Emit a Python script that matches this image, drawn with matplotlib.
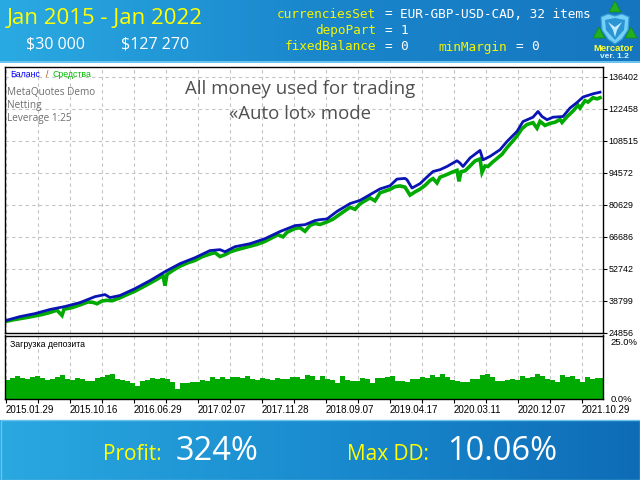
import numpy as np
import matplotlib.pyplot as plt
from matplotlib.colors import LinearSegmentedColormap
from matplotlib.patches import Polygon, Rectangle

W, H = 640, 480

# balance / equity, deal index vs thousands of dollars
bal_x = [0, 15, 30, 45, 60, 75, 90, 100, 105, 115,
         130, 145, 160, 175, 190, 205, 215, 220, 230, 245,
         260, 275, 290, 300, 310, 315, 322, 332, 345, 355,
         365, 375, 385, 392, 400, 402, 407, 415, 422, 428,
         435, 442, 452, 455, 458, 465, 475, 478, 485, 495,
         502, 512, 518, 528, 533, 537, 542, 548, 558, 565,
         572, 578, 588, 595]
balance = [30.0, 31.8, 33.1, 34.9, 36.2, 37.9, 40.5, 41.4, 40.1, 41.0,
           44.0, 47.5, 51.4, 54.9, 57.5, 60.6, 61.0, 60.1, 62.3, 63.6,
           65.8, 68.9, 71.5, 71.9, 73.7, 74.1, 74.4, 77.7, 81.1, 82.5,
           85.0, 87.5, 88.9, 91.8, 92.1, 91.5, 87.9, 89.8, 92.7, 95.1,
           95.9, 97.3, 99.8, 98.8, 97.3, 101.0, 104.3, 100.2, 101.7, 104.6,
           108.2, 112.6, 116.9, 118.8, 121.3, 119.1, 117.7, 118.8, 119.1, 122.8,
           125.2, 127.6, 129.0, 129.7]

eq_x = [0, 7, 15, 23, 30, 37, 45, 52, 57, 59,
        67, 75, 83, 88, 92, 97, 102, 107, 115, 123,
        130, 137, 145, 152, 158, 160, 162, 168, 175, 183,
        190, 197, 205, 210, 215, 220, 225, 232, 239, 245,
        252, 260, 267, 273, 278, 282, 290, 295, 300, 305,
        310, 315, 322, 328, 335, 345, 350, 355, 365, 370,
        375, 385, 390, 395, 400, 405, 410, 415, 420, 425,
        428, 432, 435, 442, 447, 452, 454, 456, 460, 465,
        470, 475, 477, 480, 483, 487, 492, 497, 502, 507,
        512, 517, 522, 528, 532, 535, 540, 545, 550, 555,
        557, 562, 568, 573, 575, 580, 583, 588, 592, 595]
equity = [29.6, 30.3, 30.9, 31.5, 32.1, 32.7, 33.6, 34.6, 32.3, 35.0,
          35.7, 36.9, 38.2, 38.0, 37.4, 38.6, 38.9, 38.7, 40.0, 41.6,
          42.9, 44.5, 46.4, 48.1, 49.7, 45.3, 50.2, 52.0, 53.8, 55.3,
          56.3, 57.9, 59.1, 59.7, 58.0, 58.8, 60.0, 61.0, 61.8, 62.5,
          63.3, 64.6, 66.2, 67.5, 66.6, 68.6, 70.2, 70.6, 69.0, 71.6,
          72.4, 72.0, 73.1, 74.3, 76.5, 79.5, 78.6, 81.0, 83.6, 82.3,
          85.8, 87.3, 88.5, 88.8, 88.3, 84.8, 86.2, 87.4, 89.0, 91.2,
          92.0, 90.1, 92.6, 93.8, 94.8, 95.6, 90.8, 95.0, 95.4, 97.5,
          99.7, 100.6, 94.7, 97.5, 97.3, 99.0, 100.8, 102.6, 105.5, 108.0,
          110.6, 113.8, 115.6, 116.4, 114.0, 117.0, 115.2, 116.1, 116.6, 117.8,
          116.5, 119.0, 121.5, 124.0, 122.8, 126.0, 125.4, 127.3, 126.8, 127.3]

# deposit load, %
load = [7.6, 8.4, 9.0, 8.2, 7.8, 8.8, 9.2, 8.4, 7.6, 8.0,
        8.6, 9.4, 8.0, 7.4, 8.4, 8.0, 7.2, 7.0, 8.4, 8.8,
        9.6, 9.8, 8.0, 7.6, 7.0, 6.2, 5.0, 7.0, 7.6, 8.4,
        8.0, 8.4, 7.8, 6.6, 4.0, 6.4, 6.2, 6.6, 6.8, 7.4,
        7.0, 8.6, 7.8, 8.8, 8.0, 8.6, 8.8, 8.2, 9.0, 8.0,
        7.4, 8.4, 8.0, 7.6, 8.4, 7.8, 7.8, 8.6, 8.8, 8.0,
        9.4, 9.0, 7.4, 9.0, 8.0, 7.6, 6.2, 9.2, 7.4, 7.0,
        7.2, 8.2, 8.0, 6.4, 8.4, 8.2, 8.6, 9.2, 7.0, 7.2,
        6.8, 8.0, 7.8, 8.6, 8.4, 9.4, 8.8, 9.8, 8.6, 7.6,
        7.2, 6.8, 6.6, 8.0, 7.8, 9.4, 9.8, 8.6, 7.2, 7.0,
        7.4, 7.8, 7.6, 9.2, 8.4, 8.6, 9.8, 9.2, 8.0, 7.4,
        6.8, 9.4, 8.6, 9.2, 8.0, 6.8, 8.6, 8.0, 8.2, 8.4]
load_x = np.arange(len(load)) * 5

y_ticks = [24856, 38799, 52742, 66686, 80629, 94572, 108515, 122458, 136402]
date_labels = ['2015.01.29', '2015.10.16', '2016.06.29', '2017.02.07', '2017.11.28',
               '2018.09.07', '2019.04.17', '2020.03.11', '2020.12.07', '2021.10.29']

# input parameters shown in the header: (column, text, colour)
params = [
    [(0, 'currenciesSet', '#f5f500'), (14, '=', 'white'),
     (16, 'EUR-GBP-USD-CAD, 32 items', 'white')],
    [(5, 'depoPart', '#f5f500'), (14, '=', 'white'), (16, '1', 'white')],
    [(1, 'fixedBalance', '#f5f500'), (14, '=', 'white'), (16, '0', 'white'),
     (21, 'minMargin', '#f5f500'), (31, '=', 'white'), (33, '0', 'white')],
]

fig = plt.figure(figsize=(6.4, 4.8), dpi=100)


def px_rect(x0, y0, x1, y1):
    return [x0 / W, 1 - y1 / H, (x1 - x0) / W, (y1 - y0) / H]


# background: header and footer bands
bg = fig.add_axes([0, 0, 1, 1], zorder=0)
bg.axis('off')
grad = np.linspace(0, 1, 256)[None, :]
top_cmap = LinearSegmentedColormap.from_list('top', ['#2aaae2', '#1a86cc', '#1576bf'])
bot_cmap = LinearSegmentedColormap.from_list('bot', ['#2aa8e0', '#1a8ccf', '#0e6cb6'])
bg.imshow(grad, cmap=top_cmap, extent=(0, W, 62, 0), aspect='auto')
bg.imshow(grad, cmap=bot_cmap, extent=(0, W, 480, 420), aspect='auto')
bg.add_patch(Rectangle((0, 61), W, 2, color='#6cc4ee', lw=0))
bg.add_patch(Rectangle((0.5, 420), W - 1, 59.5, fill=False, ec='#6cc4ee', lw=1))
bg.set_xlim(0, W)
bg.set_ylim(H, 0)

bg.text(7, 19, 'Jan 2015 - Jan 2022', color='#ffff00', fontsize=16, va='center',
        family='Open Sans')
bg.text(55, 44, '$30 000', color='white', fontsize=11.5, va='center', ha='center',
        family='Open Sans')
bg.text(155, 44, '$127 270', color='white', fontsize=11.5, va='center', ha='center',
        family='Open Sans')

mono_size = 9.2
char_w = 0.602 * mono_size * 100 / 72
for i, line in enumerate(params):
    for col, txt, colour in line:
        bg.text(277 + col * char_w, 14 + i * 16.5, txt, color=colour,
                family='DejaVu Sans Mono', fontsize=mono_size, va='center')

# logo
bg.add_patch(Polygon([(601, 17), (608, 14), (615, 16), (622, 14), (629, 17),
                      (628, 30), (622, 39), (615, 44), (608, 39), (602, 30)],
                     closed=True, fc='#74d0f4', ec='#3aa0dc', lw=0.8))
bg.add_patch(Polygon([(605, 20), (615, 18), (625, 20), (624, 30), (615, 40), (606, 30)],
                     closed=True, fc='#2a94d4', lw=0))
bg.add_patch(Polygon([(608, 22), (615, 27), (622, 22), (617, 30), (615, 37), (613, 30)],
                     closed=True, fc='#bfeaff', lw=0))
for cx, cy in [(615, 7), (599, 33), (631, 33)]:
    bg.add_patch(Polygon([(cx, cy - 6), (cx - 6, cy + 5), (cx + 6, cy + 5)],
                         closed=True, fc='#22b022', ec='#148a14', lw=0.5))
bg.text(614, 48.5, 'Mercator', color='#ffff30', fontsize=6.8, fontweight='bold',
        ha='center', va='center', family='Liberation Sans')
bg.text(614, 57, 'ver. 1.2', color='#d8f4ff', fontsize=6, fontweight='bold',
        ha='center', va='center', family='Liberation Sans')

# footer texts
bg.text(103, 455, 'Profit:', color='#ffff00', fontsize=15, va='center', family='Open Sans')
bg.text(176, 451, '324%', color='white', fontsize=23.5, va='center', family='Open Sans')
bg.text(347, 455, 'Max DD:', color='#ffff00', fontsize=15, va='center', family='Open Sans')
bg.text(447, 451, '10.06%', color='white', fontsize=23.5, va='center', family='Open Sans')

grid_x = np.arange(1, 598, 32)
grid_kw = dict(color='#c4c4c4', linestyle=(0, (3, 3)), linewidth=0.8)

# main chart
ax = fig.add_axes(px_rect(5, 67, 603, 332.5), zorder=2)
ax.set_facecolor('white')
ax.plot(eq_x, np.array(equity) * 1000, color='#00aa00', lw=2.6, solid_joinstyle='miter')
ax.plot(bal_x, np.array(balance) * 1000, color='#0a14b4', lw=2.0)
ax.set_xlim(0, 598)
ax.set_ylim(24856, 136402 + 4300)
ax.set_xticks(grid_x)
ax.set_yticks(y_ticks)
ax.set_xticklabels([])
ax.yaxis.tick_right()
ax.tick_params(axis='x', length=0)
ax.tick_params(axis='y', length=3, width=0.8, pad=1, labelsize=6.4)
for lbl in ax.get_yticklabels():
    lbl.set_family('Liberation Sans')
ax.grid(True, **grid_kw)
ax.set_axisbelow(True)
for s in ax.spines.values():
    s.set_linewidth(1.0)

ax.text(0.008, 0.97, 'Баланс', color='#0000ff', fontsize=6.3, transform=ax.transAxes,
        va='center', family='Liberation Sans')
ax.text(0.068, 0.97, '/', color='#b05000', fontsize=6.3, transform=ax.transAxes,
        va='center', family='Liberation Sans')
ax.text(0.08, 0.97, 'Средства', color='#00bb00', fontsize=6.3, transform=ax.transAxes,
        va='center', family='Liberation Sans')
info_kw = dict(color='#707070', fontsize=7.2, transform=ax.transAxes, va='center',
               family='Open Sans')
ax.text(0.004, 0.905, 'MetaQuotes Demo', **info_kw)
ax.text(0.004, 0.855, 'Netting', **info_kw)
ax.text(0.004, 0.805, 'Leverage 1:25', **info_kw)
ax.text(0.494, 0.917, 'All money used for trading', color='#505050', fontsize=13.4,
        transform=ax.transAxes, ha='center', va='center', family='Open Sans')
ax.text(0.494, 0.823, '«Auto lot» mode', color='#505050', fontsize=13.4,
        transform=ax.transAxes, ha='center', va='center', family='Open Sans')

# deposit load panel
ax2 = fig.add_axes(px_rect(5, 335.5, 603, 399), zorder=2)
ax2.set_facecolor('white')
ax2.bar(load_x, load, width=5, align='edge', color='#00aa00', lw=0)
ax2.set_xlim(0, 598)
ax2.set_ylim(0, 25)
ax2.set_yticks([])
ax2.set_xticks(grid_x)
ax2.set_xticklabels([date_labels[i // 2] if i % 2 == 0 else '' for i in range(len(grid_x))])
ax2.tick_params(axis='x', length=3, width=0.8, pad=1.5, labelsize=7)
for lbl in ax2.get_xticklabels():
    lbl.set_family('Liberation Sans')
    lbl.set_horizontalalignment('left')
ax2.grid(True, axis='x', **grid_kw)
ax2.set_axisbelow(True)
for s in ax2.spines.values():
    s.set_linewidth(1.0)
ax2.text(0.008, 0.86, 'Загрузка депозита', color='black', fontsize=6.3,
         transform=ax2.transAxes, va='center', family='Liberation Sans')
ax2.text(1.012, 0.96, '25.0%', fontsize=6.8, transform=ax2.transAxes, va='top',
         family='Liberation Sans')
ax2.text(1.012, 0.0, '0.0%', fontsize=6.8, transform=ax2.transAxes, va='center',
         family='Liberation Sans')

fig.savefig('out.png', dpi=100)
